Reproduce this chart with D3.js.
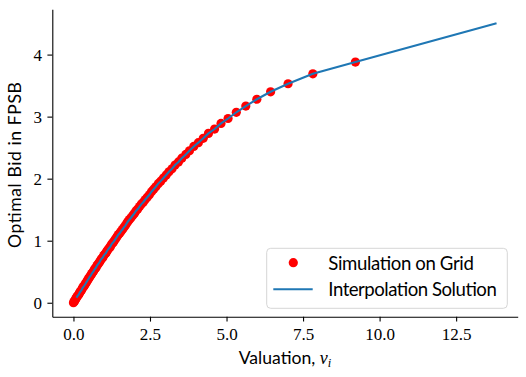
<!DOCTYPE html>
<html>
<head>
<meta charset="utf-8">
<script src="https://cdn.jsdelivr.net/npm/d3@7"></script>
<style>
    body { margin: 0; background: #fff; }
    .tick text { font-family: "Liberation Serif", serif; font-size: 17px; }
    .label { font-family: Lato, sans-serif; font-size: 17.6px; }
    .legend text { font-family: Lato, sans-serif; font-size: 18.6px; }
</style>
</head>
<body>
<div class="chart"></div>
<script>
// grid valuations (quantiles) and simulated optimal bids
const valuation = [
    0.00, 0.02, 0.04, 0.06, 0.08, 0.10, 0.12, 0.15, 0.17, 0.19,
    0.21, 0.23, 0.26, 0.28, 0.30, 0.33, 0.35, 0.37, 0.40, 0.42,
    0.45, 0.47, 0.50, 0.52, 0.55, 0.58, 0.60, 0.63, 0.66, 0.68,
    0.71, 0.74, 0.77, 0.80, 0.83, 0.86, 0.89, 0.92, 0.96, 0.99,
    1.02, 1.06, 1.09, 1.12, 1.16, 1.20, 1.23, 1.27, 1.31, 1.35,
    1.39, 1.43, 1.47, 1.51, 1.55, 1.60, 1.64, 1.69, 1.74, 1.78,
    1.83, 1.88, 1.94, 1.99, 2.04, 2.10, 2.16, 2.22, 2.28, 2.34,
    2.41, 2.48, 2.55, 2.62, 2.69, 2.77, 2.85, 2.94, 3.03, 3.12,
    3.22, 3.32, 3.43, 3.54, 3.67, 3.79, 3.93, 4.08, 4.24, 4.41,
    4.61, 4.82, 5.05, 5.32, 5.63, 5.99, 6.44, 7.01, 7.82, 9.21
]
const simBid = [
    0.00, 0.02, 0.03, 0.05, 0.07, 0.08, 0.10, 0.12, 0.13, 0.15,
    0.17, 0.18, 0.20, 0.22, 0.24, 0.26, 0.27, 0.29, 0.31, 0.33,
    0.35, 0.37, 0.39, 0.41, 0.43, 0.45, 0.47, 0.49, 0.51, 0.53,
    0.55, 0.57, 0.60, 0.62, 0.64, 0.66, 0.69, 0.71, 0.73, 0.76,
    0.78, 0.80, 0.83, 0.85, 0.88, 0.90, 0.93, 0.96, 0.98, 1.01,
    1.04, 1.07, 1.10, 1.12, 1.15, 1.18, 1.21, 1.24, 1.28, 1.31,
    1.34, 1.37, 1.41, 1.44, 1.48, 1.51, 1.55, 1.59, 1.62, 1.66,
    1.70, 1.74, 1.79, 1.83, 1.87, 1.92, 1.96, 2.01, 2.06, 2.11,
    2.16, 2.22, 2.27, 2.33, 2.39, 2.45, 2.52, 2.58, 2.65, 2.73,
    2.80, 2.89, 2.97, 3.07, 3.17, 3.28, 3.40, 3.53, 3.69, 3.88
]
// interpolation solution: grid from v=0.10 on, carried out to v=13.82
const interpV = valuation.slice(5).concat([13.82])
const interpB = simBid.slice(5).concat([4.505])

const xTicks = [0, 2.5, 5, 7.5, 10, 12.5]
const yTicks = [0, 1, 2, 3, 4]

const width = 526
const height = 377
const margin = {top: 9.3, right: 8.3, bottom: 60.3, left: 52.3}

const svg = d3.select(".chart")
    .append('svg')
    .attr('width', width)
    .attr('height', height)

const x = d3.scaleLinear()
    .domain([-0.691, 14.511])
    .range([margin.left, width - margin.right])

const y = d3.scaleLinear()
    .domain([-0.225, 4.73])
    .range([height - margin.bottom, margin.top])

svg.append('g')
    .attr('transform', `translate(0,${height - margin.bottom})`)
    .call(d3.axisBottom(x).tickValues(xTicks).tickFormat(d3.format('.1f')).tickSize(4.9).tickPadding(6.5).tickSizeOuter(0))
    .call(g => g.select('.domain').attr('stroke-width', 1.1))
    .call(g => g.selectAll('.tick line').attr('stroke-width', 1.1))
    .call(g => g.selectAll('.tick text').attr('fill', '#000'))

svg.append('g')
    .attr('transform', `translate(${margin.left},0)`)
    .call(d3.axisLeft(y).tickValues(yTicks).tickFormat(d3.format('d')).tickSize(4.9).tickPadding(5.5).tickSizeOuter(0))
    .call(g => g.select('.domain').attr('stroke-width', 1.1))
    .call(g => g.selectAll('.tick line').attr('stroke-width', 1.1))
    .call(g => g.selectAll('.tick text').attr('fill', '#000'))

svg.append('g')
    .selectAll('circle')
    .data(valuation)
    .join('circle')
    .attr('cx', d => x(d))
    .attr('cy', (d, i) => y(simBid[i]))
    .attr('r', 4.6)
    .attr('fill', '#ff0000')

const line = d3.line()
    .x(d => x(d))
    .y((d, i) => y(interpB[i]))

svg.append('path')
    .datum(interpV)
    .attr('d', line)
    .attr('fill', 'none')
    .attr('stroke', '#1f77b4')
    .attr('stroke-width', 2.1)

// axis labels
const xl = svg.append('text')
    .attr('class', 'label')
    .attr('x', 285)
    .attr('y', 364)
    .attr('text-anchor', 'middle')
xl.append('tspan').text('Valuation, ')
xl.append('tspan').attr('font-family', '"Liberation Serif", serif').attr('font-style', 'italic').attr('font-size', 18).text('v')
xl.append('tspan').attr('font-family', '"Liberation Serif", serif').attr('font-style', 'italic').attr('font-size', 12.5).attr('dy', 3).text('i')

svg.append('text')
    .attr('class', 'label')
    .attr('transform', 'translate(21,165) rotate(-90)')
    .attr('text-anchor', 'middle')
    .attr('textLength', 166)
    .text('Optimal Bid in FPSB')

// legend
const lg = svg.append('g').attr('class', 'legend')

lg.append('rect')
    .attr('x', 266.7)
    .attr('y', 248.3)
    .attr('width', 240.6)
    .attr('height', 60)
    .attr('rx', 4)
    .attr('fill', '#fff')
    .attr('fill-opacity', 0.8)
    .attr('stroke', '#d6d6d6')
    .attr('stroke-width', 1)

lg.append('circle')
    .attr('cx', 293.3)
    .attr('cy', 262.7)
    .attr('r', 4.6)
    .attr('fill', '#ff0000')

lg.append('text')
    .attr('x', 328.3)
    .attr('y', 269.5)
    .attr('textLength', 145.5)
    .text('Simulation on Grid')

lg.append('line')
    .attr('x1', 273.3)
    .attr('x2', 312.7)
    .attr('y1', 289.3)
    .attr('y2', 289.3)
    .attr('stroke', '#1f77b4')
    .attr('stroke-width', 2.1)

lg.append('text')
    .attr('x', 328.3)
    .attr('y', 296)
    .attr('textLength', 168.5)
    .text('Interpolation Solution')
</script>
</body>
</html>
